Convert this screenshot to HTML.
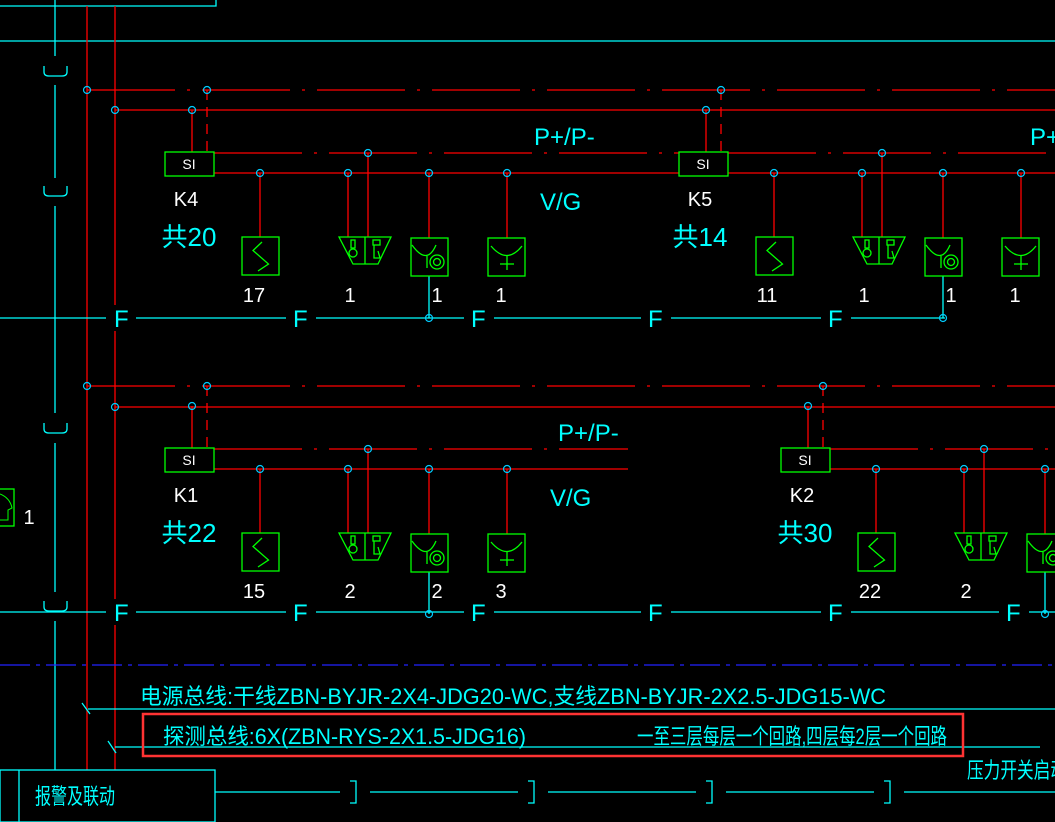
<!DOCTYPE html>
<html><head><meta charset="utf-8"><style>
html,body{margin:0;padding:0;background:#000;}
svg{display:block;}
text{font-family:"Liberation Sans","Noto Sans CJK SC",sans-serif;}
</style></head><body>
<svg width="1055" height="822" viewBox="0 0 1055 822" xmlns="http://www.w3.org/2000/svg">
<rect width="1055" height="822" fill="#000"/>
<defs>
<g id="dev" fill="none" stroke-width="1.3">
  <!-- SI box (origin at box top-left) -->
  <line x1="27" y1="-42" x2="27" y2="0" stroke="#f00"/>
  <line x1="42" y1="-62" x2="42" y2="0" stroke="#f00" stroke-dasharray="10 7"/>
  <line x1="95" y1="21" x2="95" y2="85" stroke="#f00"/>
  <line x1="183" y1="21" x2="183" y2="85" stroke="#f00"/>
  <line x1="203" y1="1" x2="203" y2="85" stroke="#f00"/>
  <line x1="264" y1="21" x2="264" y2="86" stroke="#f00"/>
  <line x1="342" y1="21" x2="342" y2="86" stroke="#f00"/>
  <line x1="264" y1="124" x2="264" y2="166" stroke="#0ff"/>
  <rect x="0" y="0" width="49" height="24" stroke="#0f0"/>
  <g stroke="#0cf" stroke-width="1.2">
    <circle cx="27" cy="-42" r="3.5"/><circle cx="42" cy="-62" r="3.5"/>
    <circle cx="203" cy="1" r="3.5"/>
    <circle cx="95" cy="21" r="3.5"/><circle cx="183" cy="21" r="3.5"/>
    <circle cx="264" cy="21" r="3.5"/><circle cx="342" cy="21" r="3.5"/>
    <circle cx="264" cy="166" r="3.5"/>
  </g>
  <g stroke="#0f0">
    <rect x="77" y="85" width="37" height="38"/>
    <polyline points="97,90 88,98.5 103.5,112 93,119"/>
    <polygon points="174,85 226,85 213,112 188,112"/>
    <line x1="200" y1="85" x2="200" y2="112"/>
    <rect x="186" y="88" width="4" height="8"/><circle cx="188" cy="101" r="4"/>
    <rect x="208" y="88" width="7" height="5"/><path d="M209 93 L209 106 L215 106 L213 99"/>
    <rect x="246" y="86" width="37" height="38"/>
    <path d="M247 93 Q262 114 271 93"/><line x1="262" y1="104" x2="262" y2="116"/>
    <circle cx="272" cy="110" r="7"/><circle cx="272" cy="110" r="3.5"/>
    <rect x="323" y="86" width="37" height="38"/>
    <path d="M326 94 Q342 113 357 94"/><line x1="342" y1="104" x2="342" y2="118"/>
    <line x1="335" y1="112" x2="349" y2="112"/>
  </g>
</g>
</defs>

<!-- top frame -->
<g stroke="#0ff" stroke-width="1.3" fill="none">
  <polyline points="0,6 216,6 216,0"/>
  <line x1="0" y1="41" x2="1055" y2="41"/>
  <!-- left cyan vertical with cups -->
  <line x1="55" y1="0" x2="55" y2="56"/>
  <line x1="55" y1="85" x2="55" y2="178"/>
  <line x1="55" y1="206" x2="55" y2="413"/>
  <line x1="55" y1="443" x2="55" y2="592"/>
  <line x1="55" y1="621" x2="55" y2="770"/>
  <path d="M44 66 V72 Q44 76 49 76 H62 Q67 76 67 72 V66"/>
  <path d="M44 186 V192 Q44 196 49 196 H62 Q67 196 67 192 V186"/>
  <path d="M44 423 V429 Q44 433 49 433 H62 Q67 433 67 429 V423"/>
  <path d="M44 601 V607 Q44 611 49 611 H62 Q67 611 67 607 V601"/>
</g>
<!-- red verticals -->
<line x1="87" y1="6" x2="87" y2="770" stroke="#f00" stroke-width="1.3"/>
<line x1="115" y1="6" x2="115" y2="770" stroke="#f00" stroke-width="1.3"/>

<!-- red horizontal buses -->
<g stroke="#f00" stroke-width="1.3">
  <line x1="87" y1="90" x2="1055" y2="90" stroke-dasharray="88 12 3 12"/>
  <line x1="115" y1="110" x2="1055" y2="110"/>
  <line x1="214" y1="153" x2="679" y2="153" stroke-dasharray="88 12 3 12"/>
  <line x1="214" y1="173" x2="679" y2="173"/>
  <line x1="728" y1="153" x2="1055" y2="153" stroke-dasharray="88 12 3 12"/>
  <line x1="728" y1="173" x2="1055" y2="173"/>
  <line x1="87" y1="386" x2="1055" y2="386" stroke-dasharray="88 12 3 12"/>
  <line x1="115" y1="407" x2="1055" y2="407"/>
  <line x1="214" y1="449" x2="628" y2="449" stroke-dasharray="88 12 3 12"/>
  <line x1="214" y1="469" x2="628" y2="469"/>
  <line x1="830" y1="449" x2="1055" y2="449" stroke-dasharray="88 12 3 12"/>
  <line x1="830" y1="469" x2="1055" y2="469"/>
</g>
<g stroke="#0cf" stroke-width="1.2" fill="none">
  <circle cx="87" cy="90" r="3.5"/><circle cx="115" cy="110" r="3.5"/>
  <circle cx="87" cy="386" r="3.5"/><circle cx="115" cy="407" r="3.5"/>
</g>

<!-- F lines -->
<line x1="0" y1="318" x2="945" y2="318" stroke="#0ff" stroke-width="1.3"/>
<line x1="0" y1="612" x2="1055" y2="612" stroke="#0ff" stroke-width="1.3"/>
<g fill="#000">
  <rect x="106" y="305" width="30" height="26"/><rect x="286" y="305" width="30" height="26"/>
  <rect x="464" y="305" width="30" height="26"/><rect x="641" y="305" width="30" height="26"/>
  <rect x="821" y="305" width="30" height="26"/>
  <rect x="106" y="599" width="30" height="26"/><rect x="286" y="599" width="30" height="26"/>
  <rect x="464" y="599" width="30" height="26"/><rect x="641" y="599" width="30" height="26"/>
  <rect x="821" y="599" width="30" height="26"/><rect x="999" y="599" width="30" height="26"/>
</g>
<g fill="#0ff" font-size="24">
  <text x="114" y="327">F</text><text x="293" y="327">F</text><text x="471" y="327">F</text>
  <text x="648" y="327">F</text><text x="828" y="327">F</text>
  <text x="114" y="621">F</text><text x="293" y="621">F</text><text x="471" y="621">F</text>
  <text x="648" y="621">F</text><text x="828" y="621">F</text><text x="1006" y="621">F</text>
</g>

<!-- device groups -->
<use href="#dev" x="165" y="152"/>
<use href="#dev" x="679" y="152"/>
<use href="#dev" x="165" y="448"/>
<use href="#dev" x="781" y="448"/>

<!-- SI text -->
<g fill="#fff" font-size="14" text-anchor="middle">
  <text x="189" y="169">SI</text><text x="703" y="169">SI</text>
  <text x="189" y="465">SI</text><text x="805" y="465">SI</text>
</g>
<g fill="#fff" font-size="20" text-anchor="middle">
  <text x="186" y="206">K4</text><text x="700" y="206">K5</text>
  <text x="186" y="502">K1</text><text x="802" y="502">K2</text>
  <text x="254" y="302">17</text><text x="350" y="302">1</text><text x="437" y="302">1</text><text x="501" y="302">1</text>
  <text x="767" y="302">11</text><text x="864" y="302">1</text><text x="951" y="302">1</text><text x="1015" y="302">1</text>
  <text x="254" y="598">15</text><text x="350" y="598">2</text><text x="437" y="598">2</text><text x="501" y="598">3</text>
  <text x="870" y="598">22</text><text x="966" y="598">2</text>
  <text x="29" y="524">1</text>
</g>
<g fill="#0ff" font-size="26" text-anchor="middle">
  <text x="189" y="246">共20</text><text x="700" y="246">共14</text>
  <text x="189" y="542">共22</text><text x="805" y="542">共30</text>
</g>
<g fill="#0ff" font-size="24">
  <text x="534" y="145">P+/P-</text><text x="1030" y="145">P+</text>
  <text x="540" y="210">V/G</text>
  <text x="558" y="441">P+/P-</text><text x="550" y="506">V/G</text>
</g>

<!-- left partial symbol -->
<rect x="-2" y="489" width="16" height="37" fill="none" stroke="#0f0" stroke-width="1.3"/>
<path d="M0 494 Q10 498 12 508 L8 510 V520 H0" fill="none" stroke="#0f0" stroke-width="1"/>

<!-- bottom section -->
<line x1="0" y1="665" x2="1055" y2="665" stroke="#22f" stroke-width="1.3" stroke-dasharray="30 6 4 6"/>
<g stroke="#0ff" stroke-width="1.3" fill="none">
  <line x1="88" y1="709" x2="1055" y2="709"/>
  <line x1="115" y1="747" x2="1040" y2="747"/>
  <line x1="82" y1="703" x2="90" y2="714"/>
  <line x1="108" y1="741" x2="116" y2="753"/>
  <rect x="0" y="770" width="215" height="52"/>
  <line x1="19" y1="770" x2="19" y2="822"/>
  <line x1="215" y1="792" x2="340" y2="792"/><line x1="370" y1="792" x2="518" y2="792"/>
  <line x1="548" y1="792" x2="696" y2="792"/><line x1="726" y1="792" x2="874" y2="792"/>
  <line x1="904" y1="792" x2="1055" y2="792"/>
  <path d="M350 781 H356 V803 H350"/><path d="M528 781 H534 V803 H528"/>
  <path d="M706 781 H712 V803 H706"/><path d="M884 781 H890 V803 H884"/>
</g>
<g fill="#0ff" font-size="22">
  <text x="140" y="704" textLength="746" lengthAdjust="spacingAndGlyphs">电源总线:干线ZBN-BYJR-2X4-JDG20-WC,支线ZBN-BYJR-2X2.5-JDG15-WC</text>
  <text x="163" y="744" textLength="363" lengthAdjust="spacingAndGlyphs">探测总线:6X(ZBN-RYS-2X1.5-JDG16)</text>
  <text x="637" y="744" textLength="310" lengthAdjust="spacingAndGlyphs">一至三层每层一个回路,四层每2层一个回路</text>
  <text x="967" y="778" textLength="100" lengthAdjust="spacingAndGlyphs">压力开关启动</text>
  <text x="35" y="804" textLength="80" lengthAdjust="spacingAndGlyphs">报警及联动</text>
</g>
<rect x="143" y="714" width="820" height="42" fill="none" stroke="#f33" stroke-width="2.5"/>
</svg>
</body></html>
